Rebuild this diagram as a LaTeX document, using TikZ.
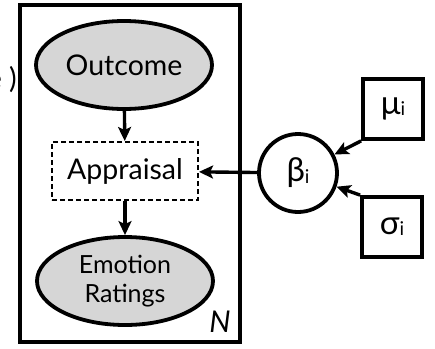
\documentclass[tikz,border=0pt]{standalone}
\usepackage{fontspec}
\setmainfont{Lato}
\usetikzlibrary{arrows.meta,shapes.geometric}
\definecolor{obsgray}{HTML}{D6D6D6}
\begin{document}
\begin{tikzpicture}[x=1pt,y=-1pt,
  lbl/.style={font=\fontsize{28.5}{31}\selectfont},
  greek/.style={font=\fontsize{33}{33}\selectfont},
  obs/.style={ellipse, draw, line width=3.8pt, fill=obsgray, minimum width=176pt, minimum height=88pt, inner sep=0pt, align=center, lbl},
  hidden/.style={draw, dashed, line width=2pt, dash pattern=on 5pt off 3pt, minimum width=146pt, minimum height=58pt, inner sep=0pt, lbl},
  param/.style={draw, line width=3.8pt, minimum width=60pt, minimum height=60pt, inner sep=0pt, greek},
  latent/.style={circle, draw, line width=3.8pt, minimum size=78pt, inner sep=0pt, greek},
  plate/.style={draw, line width=4pt},
  arr/.style={line width=3.4pt, -{Stealth[length=14pt,width=13pt,inset=3pt]}}
]
\useasboundingbox (0,0) rectangle (435,348);
\node[plate, minimum width=220pt, minimum height=337pt, inner sep=0pt] (plate) at (129.5,173.5) {};
\node[obs] (outcome) at (124,65) {Outcome};
\node[hidden] (appraisal) at (125,171) {Appraisal};
\node[obs, font=\fontsize{25}{29}\selectfont] (emotion) at (125,281) {Emotion\\Ratings};
\node[latent] (beta) at (298,173) {β\raisebox{-2pt}{\fontsize{19}{19}\selectfont i}};
\node[param] (mu) at (393,109) {μ\raisebox{-1pt}{\fontsize{19}{19}\selectfont i}};
\node[param] (sigma) at (392,227) {σ\raisebox{-1pt}{\fontsize{19}{19}\selectfont i}};
\node[font=\fontsize{30}{30}\selectfont\itshape] (N) at (220,322) {N};
\node[lbl, anchor=east, inner sep=0pt] (frag) at (17,80) {e )};
\draw[arr] (outcome) -- (appraisal);
\draw[arr] (appraisal) -- (emotion);
\draw[arr] (beta) -- (appraisal);
\draw[arr] (mu.south west) -- (beta);
\draw[arr] (sigma.north west) -- (beta);
\end{tikzpicture}
\end{document}
